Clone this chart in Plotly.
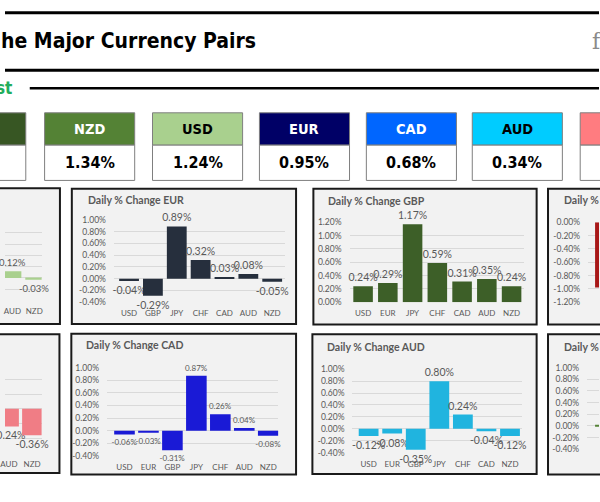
import plotly.graph_objects as go

W, H = 600, 502

# ---------------- data ----------------
box_names = ["NZD", "USD", "EUR", "CAD", "AUD"]
box_values = [1.34, 1.24, 0.95, 0.68, 0.34]

usd_cats = ["AUD", "NZD"]
usd_vals = [0.12, -0.03]
eur_cats = ["USD", "GBP", "JPY", "CHF", "CAD", "AUD", "NZD"]
eur_vals = [-0.04, -0.29, 0.89, 0.32, 0.03, 0.08, -0.05]
gbp_cats = ["USD", "EUR", "JPY", "CHF", "CAD", "AUD", "NZD"]
gbp_vals = [0.24, 0.29, 1.17, 0.59, 0.31, 0.35, 0.24]
jpy_cats = ["USD"]
jpy_vals = [-0.98]
chf_cats = ["AUD", "NZD"]
chf_vals = [-0.24, -0.36]
cad_cats = ["USD", "EUR", "GBP", "JPY", "CHF", "AUD", "NZD"]
cad_vals = [-0.06, -0.03, -0.31, 0.87, 0.26, 0.04, -0.08]
aud_cats = ["USD", "EUR", "GBP", "JPY", "CHF", "CAD", "NZD"]
aud_vals = [-0.12, -0.08, -0.35, 0.80, 0.24, -0.04, -0.12]
nzd_cats = ["USD"]
nzd_vals = [0.02]

ticks_a = [-0.4, -0.2, 0.0, 0.2, 0.4, 0.6, 0.8, 1.0]
ticks_gbp = [0.0, 0.2, 0.4, 0.6, 0.8, 1.0, 1.2]
ticks_jpy = [-1.2, -1.0, -0.8, -0.6, -0.4, -0.2, 0.0]
ticks_chf = [-0.6, -0.4, -0.2, 0.0, 0.2, 0.4, 0.6]

# ---------------- helpers ----------------
def fx(p):
    return p / W


def fy(p):
    return 1 - p / H


shapes = []
annotations = []

NARROW = "Liberation Sans Narrow, DejaVu Sans Condensed, Arial Narrow, sans-serif"
CHART_FONT = "Lato, Open Sans, sans-serif"


def rect(x0, y0, x1, y1, fill, line_color="rgba(0,0,0,0)", line_width=0, layer="below"):
    shapes.append(dict(type="rect", xref="paper", yref="paper",
                       x0=fx(x0), x1=fx(x1), y0=fy(y1), y1=fy(y0),
                       fillcolor=fill, line=dict(color=line_color, width=line_width),
                       layer=layer))


def hline(x0, x1, y, width, color="black"):
    shapes.append(dict(type="line", xref="paper", yref="paper",
                       x0=fx(x0), x1=fx(x1), y0=fy(y), y1=fy(y),
                       line=dict(color=color, width=width), layer="above"))


def label(x, y, s, size, color, family, xanchor="left"):
    annotations.append(dict(xref="paper", yref="paper", x=fx(x), y=fy(y), text=s,
                            showarrow=False, xanchor=xanchor, yanchor="middle",
                            font=dict(size=size, color=color, family=family)))


# ---------------- header ----------------
hline(0, 600, 8, 3)
hline(0, 600, 66.5, 3)
hline(25, 600, 85, 2.5)
label(-6, 37, "<b>he Major Currency Pairs</b>", 21, "black", NARROW)
label(591, 37, "f", 22, "#8a8a8a", "DejaVu Serif")
label(9, 85, "<b>st</b>", 17, "#22ad5c", NARROW, xanchor="right")

# ---------------- currency boxes ----------------
box_left = [40, 149, 257, 365, 472]
box_w = 91
box_fill = ["#548235", "#a9d08e", "#000066", "#0066ff", "#00ccff"]
box_txt = ["white", "black", "white", "white", "black"]
HT, HM, HB = 110, 143, 179

# partial boxes at the edges
for x0, col in [(-70, "#375623"), (581, "#ff7c80")]:
    rect(x0, HT, x0 + box_w, HM, col, "#7f7f7f", 1)
    rect(x0, HM, x0 + box_w, HB, "white", "#7f7f7f", 1)

for i, name in enumerate(box_names):
    x0 = box_left[i]
    rect(x0, HT, x0 + box_w, HM, box_fill[i], "#7f7f7f", 1)
    rect(x0, HM, x0 + box_w, HB, "white", "#7f7f7f", 1)
    label(x0 + box_w / 2, 126.5, f"<b>{name}</b>", 14.5, box_txt[i], NARROW, xanchor="center")
    label(x0 + box_w / 2, 160.5, f"<b>{box_values[i]:.2f}%</b>", 16, "black", NARROW, xanchor="center")

# ---------------- charts ----------------
charts = [
    dict(title=None, cats=usd_cats, vals=usd_vals, color="#a9d08e",
         panel=(-10, 187, 55.5, 325.5), grid=(0, 37), c0=7.5, sp=22,
         ticks=ticks_a, ypx=(221, 301.5), tpos=None, lab=9.5, yt=False, bw=0.82),
    dict(title="Daily % Change EUR", cats=eur_cats, vals=eur_vals, color="#262f3d",
         panel=(67.5, 187.5, 294, 325.5), grid=(110, 283), c0=125.3, sp=24.1,
         ticks=ticks_a, ypx=(219.3, 303.3), tpos=(82, 198.5), lab=10.5, yt=True, bw=0.83),
    dict(title="Daily % Change GBP", cats=gbp_cats, vals=gbp_vals, color="#3d5f28",
         panel=(311.5, 187.5, 537, 326), grid=(348, 524), c0=361.7, sp=25,
         ticks=ticks_gbp, ypx=(221.7, 303.3), tpos=(324, 200), lab=10.5, yt=True, bw=0.79),
    dict(title="Daily % Change JPY", cats=jpy_cats, vals=jpy_vals, color="#a81818",
         panel=(548.5, 187.5, 615, 326), grid=(589, 600), c0=606, sp=24,
         ticks=ticks_jpy, ypx=(221.7, 303.3), tpos=(562.5, 199), lab=10.5, yt=True, bw=0.83),
    dict(title=None, cats=chf_cats, vals=chf_vals, color="#f07d85",
         panel=(-10, 336, 55, 477.5), grid=(0, 37), c0=4, sp=23.3,
         ticks=ticks_chf, ypx=(367, 457), tpos=None, lab=10.5, yt=False, bw=0.86),
    dict(title="Daily % Change CAD", cats=cad_cats, vals=cad_vals, color="#1a1ad6",
         panel=(67, 335.5, 294, 479), grid=(103, 276), c0=120.7, sp=24.2,
         ticks=ticks_a, ypx=(370, 460), tpos=(80, 347), lab=8, yt=True, bw=0.86),
    dict(title="Daily % Change AUD", cats=aud_cats, vals=aud_vals, color="#20b4df",
         panel=(310.5, 336, 537, 478.5), grid=(351, 522), c0=367.3, sp=23.8,
         ticks=ticks_a, ypx=(371.7, 456.7), tpos=(323, 348.5), lab=10.5, yt=True, bw=0.84),
    dict(title="Daily % Change NZD", cats=nzd_cats, vals=nzd_vals, color="#548235",
         panel=(548.5, 336, 615, 479), grid=(588, 600), c0=606, sp=24,
         ticks=ticks_a, ypx=(370, 453.3), tpos=(563, 348.5), lab=10.5, yt=True, bw=0.83),
]

fig = go.Figure()
layout_axes = {}
for i, c in enumerate(charts):
    n = i + 1
    xs = "" if n == 1 else str(n)
    # panel frame
    x0, y0, x1, y1 = c["panel"]
    rect(x0, y0, x1, y1, "#f2f2f2", "#1a1a1a", 2)
    if c["title"] and c["tpos"]:
        label(c["tpos"][0], c["tpos"][1], f"<b>{c['title']}</b>", 10.5, "#595959", CHART_FONT)

    gx0, gx1 = c["grid"]
    xr = [(gx0 - c["c0"]) / c["sp"], (gx1 - c["c0"]) / c["sp"]]
    ticks = c["ticks"]
    layout_axes["xaxis" + xs] = dict(
        domain=[max(0, fx(gx0)), min(1, fx(gx1))], range=xr, type="category",
        anchor="y" + xs, showgrid=False, zeroline=False, showline=False, ticks="",
        tickangle=0, tickfont=dict(size=8, color="#595959", family=CHART_FONT),
        ticklabelstandoff=5, fixedrange=True)
    layout_axes["yaxis" + xs] = dict(
        domain=[fy(c["ypx"][1]), fy(c["ypx"][0])], range=[min(ticks), max(ticks)],
        anchor="x" + xs, tickvals=ticks, ticktext=[f"{t:.2f}%" for t in ticks],
        showticklabels=c["yt"], showgrid=True, gridcolor="#d9d9d9", gridwidth=1,
        zeroline=False, showline=False, ticks="", ticklabelstandoff=7,
        tickfont=dict(size=8.5, color="#595959", family=CHART_FONT), fixedrange=True)

    fig.add_trace(go.Bar(
        x=c["cats"], y=c["vals"], xaxis="x" + xs, yaxis="y" + xs, width=c["bw"],
        marker=dict(color=c["color"], line=dict(width=0)),
        text=[f"{v:.2f}%" for v in c["vals"]], textposition="outside", textangle=0,
        constraintext="none", cliponaxis=False,
        textfont=dict(size=c["lab"], color="#595959", family=CHART_FONT),
        hoverinfo="skip", showlegend=False))

fig.update_layout(
    width=W, height=H, margin=dict(l=0, r=0, t=0, b=0),
    paper_bgcolor="white", plot_bgcolor="rgba(0,0,0,0)",
    shapes=shapes, annotations=annotations, showlegend=False,
    font=dict(family=CHART_FONT), **layout_axes)

fig.write_html("out.html", config={"displayModeBar": False})
